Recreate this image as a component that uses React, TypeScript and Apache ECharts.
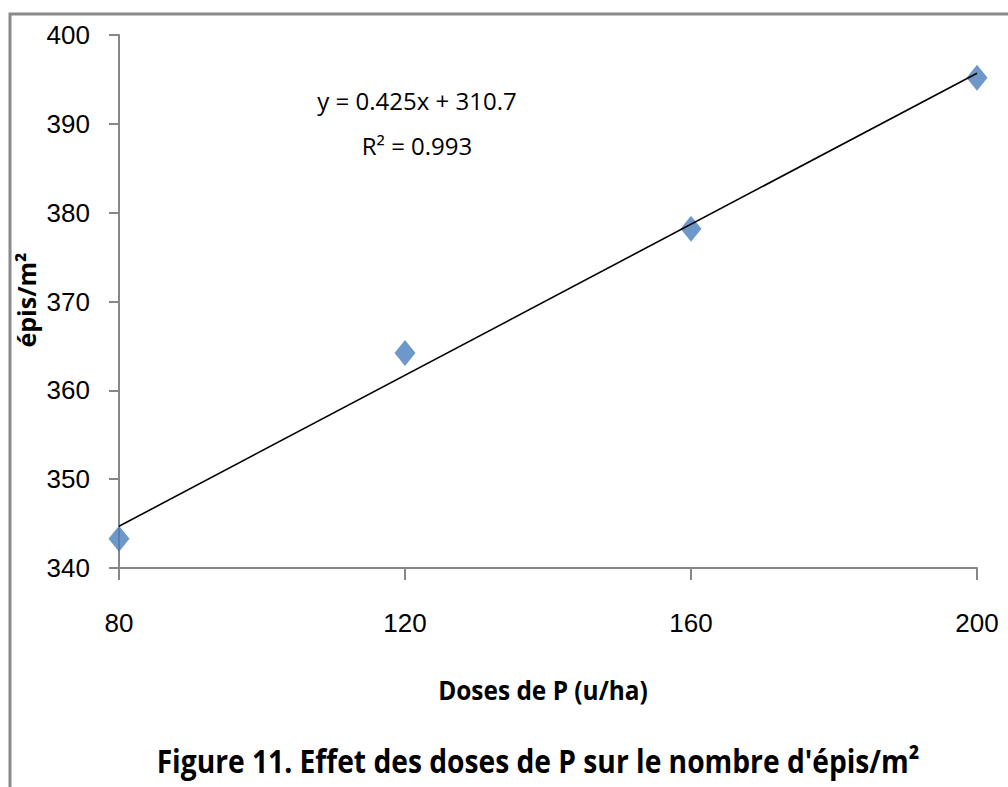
import React, { useEffect, useRef } from "react";
import * as echarts from "echarts";

// Phosphorus doses (u/ha) and measured ears per m²
const doses = [80, 120, 160, 200];
const episM2 = [343.3, 364.2, 378.2, 395.2];

// Linear fit reported on the chart
const slope = 0.425;
const intercept = 310.7;
const rSquared = "0.993";
const fitRange = [80, 200];

const yTicks = { min: 340, max: 400, interval: 10 };
const xTicks = { min: 80, max: 200, interval: 40 };

const axisGray = "#878787";
const markerBlue = "#4A7EBB";
const sans = '"Open Sans", sans-serif';

export default function App() {
  const ref = useRef<HTMLDivElement>(null);

  useEffect(() => {
    if (!ref.current) return;
    const chart = echarts.init(ref.current, null, { renderer: "svg" });

    const fitLine = fitRange.map((x) => [x, +(slope * x + intercept).toFixed(3)]);

    chart.setOption({
      animation: false,
      backgroundColor: "#ffffff",
      grid: { left: 119, right: 31, top: 35, bottom: 219 },
      xAxis: {
        type: "value",
        min: xTicks.min,
        max: xTicks.max,
        interval: xTicks.interval,
        splitLine: { show: false },
        axisLine: { show: true, lineStyle: { color: axisGray, width: 2 } },
        axisTick: { show: true, length: 12, lineStyle: { color: axisGray, width: 2 } },
        axisLabel: {
          margin: 42,
          fontFamily: '"Liberation Sans", sans-serif',
          fontSize: 26,
          color: "#000",
        },
      },
      yAxis: {
        type: "value",
        min: yTicks.min,
        max: yTicks.max,
        interval: yTicks.interval,
        splitLine: { show: false },
        axisLine: { show: true, lineStyle: { color: axisGray, width: 2 } },
        axisTick: { show: true, length: 10, lineStyle: { color: axisGray, width: 2 } },
        axisLabel: {
          margin: 29,
          fontFamily: '"Liberation Sans", sans-serif',
          fontSize: 26,
          color: "#000",
        },
      },
      series: [
        {
          type: "line",
          name: "fit",
          data: fitLine,
          symbol: "none",
          lineStyle: { color: "#000", width: 1.6 },
          silent: true,
          z: 3,
        },
        {
          type: "scatter",
          name: "épis/m²",
          data: doses.map((d, i) => [d, episM2[i]]),
          symbol: "diamond",
          symbolSize: [21, 26],
          itemStyle: { color: markerBlue },
          z: 2,
        },
      ],
      graphic: [
        {
          type: "polyline",
          shape: { points: [[10, 800], [10, 14], [1020, 14]] },
          style: { stroke: "#8a8a8a", lineWidth: 3, fill: "none" },
          silent: true,
        },
        {
          type: "text",
          x: 417,
          y: 100,
          style: {
            text: "y = 0.425x + 310.7",
            font: "24px " + sans,
            fill: "#000",
            align: "center",
            verticalAlign: "middle",
          },
        },
        {
          type: "text",
          x: 417,
          y: 145,
          style: {
            text: "R² = " + rSquared,
            font: "24px " + sans,
            fill: "#000",
            align: "center",
            verticalAlign: "middle",
          },
        },
        {
          // y-axis title
          type: "text",
          x: 26,
          y: 300,
          rotation: Math.PI / 2,
          style: {
            text: "épis/m²",
            font: "bold 25px " + sans,
            fill: "#000",
            align: "center",
            verticalAlign: "middle",
          },
        },
        {
          // x-axis title
          type: "text",
          x: 543,
          y: 690,
          scaleX: 0.94,
          style: {
            text: "Doses de P (u/ha)",
            font: "bold 26px " + sans,
            fill: "#000",
            align: "center",
            verticalAlign: "middle",
          },
        },
        {
          type: "text",
          x: 538,
          y: 760,
          scaleX: 0.91,
          scaleY: 1.05,
          style: {
            text: "Figure 11. Effet des doses de P sur le nombre d'épis/m²",
            font: "bold 31px " + sans,
            fill: "#000",
            align: "center",
            verticalAlign: "middle",
          },
        },
      ],
    });

    return () => chart.dispose();
  }, []);

  return (
    <div
      ref={ref}
      style={{ position: "fixed", left: 0, top: 0, width: 1008, height: 787, background: "#fff" }}
    />
  );
}
